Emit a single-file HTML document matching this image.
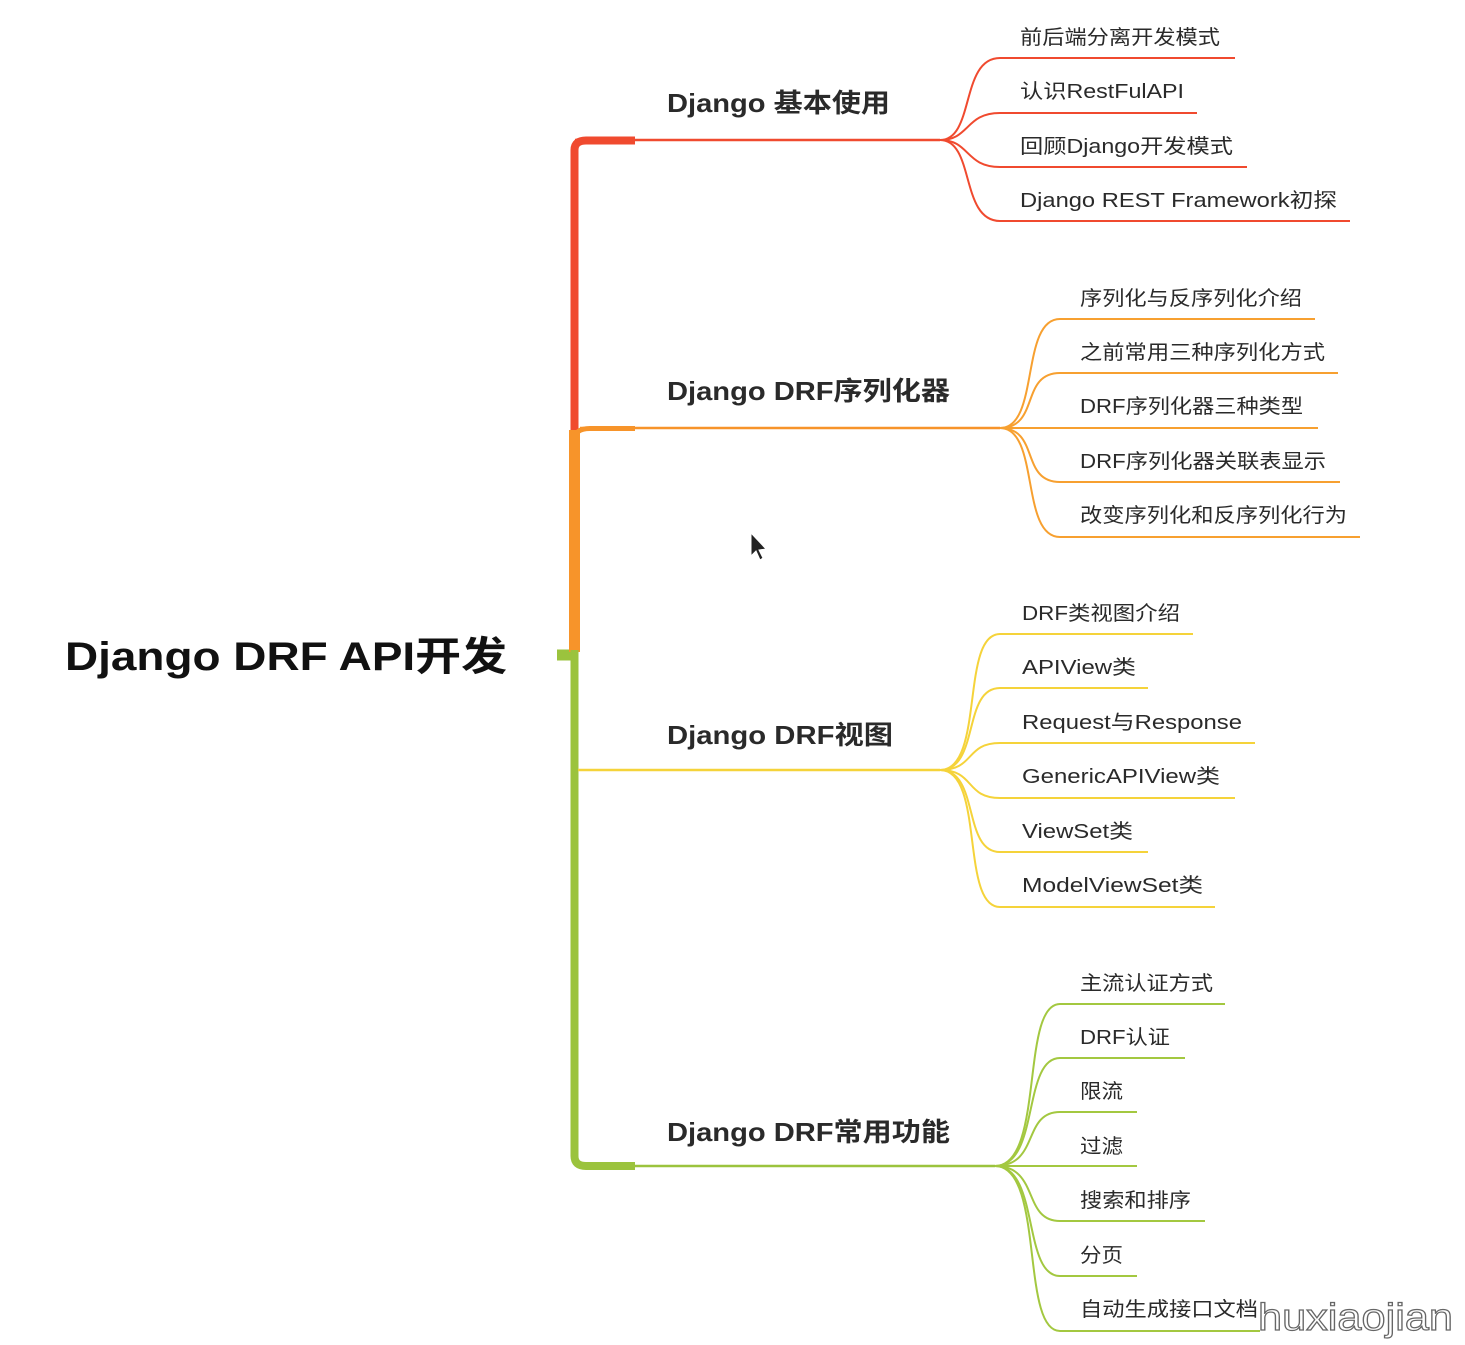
<!DOCTYPE html>
<html><head><meta charset="utf-8"><style>
html,body{margin:0;padding:0;background:#fff;}
svg{display:block;}
text{font-family:"Liberation Sans","Noto Sans CJK SC",sans-serif;fill:#2a2a2a;}
.b{font-weight:bold;}
</style></head><body>
<svg width="1465" height="1345" viewBox="0 0 1465 1345" xmlns="http://www.w3.org/2000/svg">
<!-- trunk -->
<path d="M557 655 H578" stroke="#9bc33d" stroke-width="11" fill="none"/>
<path d="M574.5 430 V150 Q574.5 140.5 586 140.5 H635" stroke="#f04a2f" stroke-width="8" fill="none"/>
<rect x="569" y="430" width="11" height="222" fill="#f7942a"/>
<path d="M574.5 650 V1156 Q574.5 1166 586 1166 H635" stroke="#9bc33d" stroke-width="8" fill="none"/>
<path d="M574.5 440 Q574.5 428.5 590 428.5 H635" stroke="#f7942a" stroke-width="5" fill="none"/>
<!-- branch lines -->
<path d="M575 140 H940" stroke="#f04a2f" stroke-width="2.5" fill="none"/>
<path d="M580 428 H1000" stroke="#f7942a" stroke-width="2.5" fill="none"/>
<path d="M578 770 H940" stroke="#f5d33a" stroke-width="2.5" fill="none"/>
<path d="M580 1166 H995" stroke="#9bc33d" stroke-width="2.5" fill="none"/>
<g fill="none" stroke-width="2">
<g stroke="#f04a2f">
<path d="M940 140 C975 140 960 58 1000 58 H1235"/>
<path d="M940 140 C970 140 965 113 1000 113 H1197"/>
<path d="M940 140 C970 140 965 167 1000 167 H1247"/>
<path d="M940 140 C975 140 960 221 1000 221 H1350"/>
</g>
<g stroke="#f7a030">
<path d="M1000 428 C1040 428 1020 319 1060 319 H1315"/>
<path d="M1000 428 C1040 428 1020 373 1060 373 H1338"/>
<path d="M1000 428 H1318"/>
<path d="M1000 428 C1040 428 1020 482 1060 482 H1340"/>
<path d="M1000 428 C1040 428 1020 537 1060 537 H1360"/>
</g>
<g stroke="#f5d33a">
<path d="M940 770 C985 770 960 634 1000 634 H1193"/>
<path d="M940 770 C980 770 962 688 1000 688 H1148"/>
<path d="M940 770 C975 770 965 743 1000 743 H1255"/>
<path d="M940 770 C975 770 965 798 1000 798 H1235"/>
<path d="M940 770 C980 770 962 852 1000 852 H1148"/>
<path d="M940 770 C985 770 960 907 1000 907 H1215"/>
</g>
<g stroke="#a3c840">
<path d="M995 1166 C1045 1166 1020 1004 1060 1004 H1225"/>
<path d="M995 1166 C1040 1166 1022 1058 1060 1058 H1185"/>
<path d="M995 1166 C1040 1166 1022 1112 1060 1112 H1137"/>
<path d="M995 1166 H1137"/>
<path d="M995 1166 C1040 1166 1022 1221 1060 1221 H1205"/>
<path d="M995 1166 C1040 1166 1022 1276 1060 1276 H1137"/>
<path d="M995 1166 C1045 1166 1020 1331 1060 1331 H1260"/>
</g>
</g>
<!-- root -->
<text x="65" y="670" class="b" font-size="40" textLength="442" lengthAdjust="spacingAndGlyphs" style="fill:#111">Django DRF API开发</text>
<!-- main labels -->
<g class="b" font-size="26">
<text class="b" x="667" y="112" textLength="223" lengthAdjust="spacingAndGlyphs">Django 基本使用</text>
<text class="b" x="667" y="400" textLength="283" lengthAdjust="spacingAndGlyphs">Django DRF序列化器</text>
<text class="b" x="667" y="744" textLength="226" lengthAdjust="spacingAndGlyphs">Django DRF视图</text>
<text class="b" x="667" y="1141" textLength="283" lengthAdjust="spacingAndGlyphs">Django DRF常用功能</text>
</g>
<g font-size="20" style="fill:#444">
<text x="1020" y="44" textLength="200" lengthAdjust="spacingAndGlyphs">前后端分离开发模式</text>
<text x="1020" y="98" textLength="164" lengthAdjust="spacingAndGlyphs">认识RestFulAPI</text>
<text x="1020" y="153" textLength="213" lengthAdjust="spacingAndGlyphs">回顾Django开发模式</text>
<text x="1020" y="207" textLength="317" lengthAdjust="spacingAndGlyphs">Django REST Framework初探</text>
<text x="1080" y="305" textLength="222" lengthAdjust="spacingAndGlyphs">序列化与反序列化介绍</text>
<text x="1080" y="359" textLength="245" lengthAdjust="spacingAndGlyphs">之前常用三种序列化方式</text>
<text x="1080" y="413" textLength="223" lengthAdjust="spacingAndGlyphs">DRF序列化器三种类型</text>
<text x="1080" y="468" textLength="246" lengthAdjust="spacingAndGlyphs">DRF序列化器关联表显示</text>
<text x="1080" y="522" textLength="267" lengthAdjust="spacingAndGlyphs">改变序列化和反序列化行为</text>
<text x="1022" y="620" textLength="158" lengthAdjust="spacingAndGlyphs">DRF类视图介绍</text>
<text x="1022" y="674" textLength="114" lengthAdjust="spacingAndGlyphs">APIView类</text>
<text x="1022" y="729" textLength="220" lengthAdjust="spacingAndGlyphs">Request与Response</text>
<text x="1022" y="783" textLength="198" lengthAdjust="spacingAndGlyphs">GenericAPIView类</text>
<text x="1022" y="838" textLength="111" lengthAdjust="spacingAndGlyphs">ViewSet类</text>
<text x="1022" y="892" textLength="181" lengthAdjust="spacingAndGlyphs">ModelViewSet类</text>
<text x="1080" y="990" textLength="133" lengthAdjust="spacingAndGlyphs">主流认证方式</text>
<text x="1080" y="1044" textLength="90" lengthAdjust="spacingAndGlyphs">DRF认证</text>
<text x="1080" y="1098" textLength="43" lengthAdjust="spacingAndGlyphs">限流</text>
<text x="1080" y="1153" textLength="43" lengthAdjust="spacingAndGlyphs">过滤</text>
<text x="1080" y="1207" textLength="111" lengthAdjust="spacingAndGlyphs">搜索和排序</text>
<text x="1080" y="1262" textLength="43" lengthAdjust="spacingAndGlyphs">分页</text>
<text x="1080" y="1316" textLength="178" lengthAdjust="spacingAndGlyphs">自动生成接口文档</text>
</g>
<!-- cursor -->
<path d="M751 533 L751 556 L756 551 L760 560 L763 558 L759 550 L766 549 Z" fill="#222" stroke="#fff" stroke-width="1"/>
<!-- watermark -->
<text x="1258" y="1330" font-size="38" textLength="195" lengthAdjust="spacingAndGlyphs" style="fill:#fff;stroke:#666;stroke-width:1.2">huxiaojian</text>
</svg>
</body></html>
